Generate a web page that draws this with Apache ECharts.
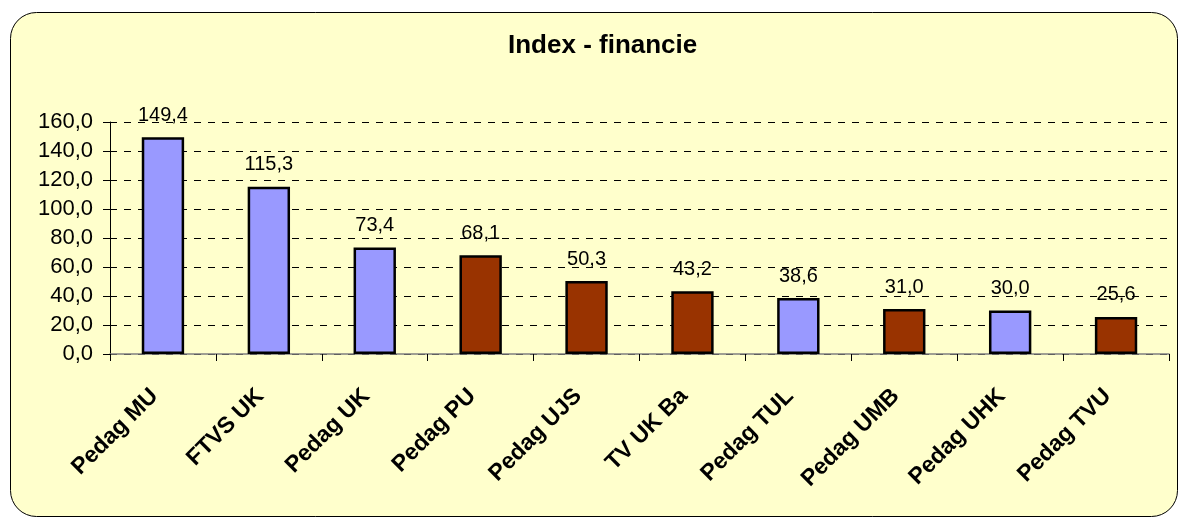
<!DOCTYPE html>
<html>
<head>
<meta charset="utf-8">
<script src="https://cdn.jsdelivr.net/npm/echarts@6/dist/echarts.min.js"></script>
<style>
html,body{margin:0;padding:0;background:#fff;}
#chart{width:1181px;height:518px;}
</style>
</head>
<body>
<div id="chart"></div>
<script>
const categories = ['Pedag MU','FTVS UK','Pedag UK','Pedag PU','Pedag UJS','TV UK Ba','Pedag TUL','Pedag UMB','Pedag UHK','Pedag TVU'];
const values = [149.4, 115.3, 73.4, 68.1, 50.3, 43.2, 38.6, 31.0, 30.0, 25.6];
const groups = ['a','a','a','b','b','b','a','b','a','b'];
const yTicks = { min: 0, max: 160, interval: 20 };
const titleText = 'Index - financie';

const groupColor = { a: '#9999FF', b: '#993300' };
const fmt = v => v.toFixed(1).replace('.', ',');

const chart = echarts.init(document.getElementById('chart'), null, { renderer: 'canvas' });
chart.setOption({
  backgroundColor: '#ffffff',
  animation: false,
  graphic: [{
    type: 'rect',
    z: -10,
    silent: true,
    shape: { x: 10.5, y: 12.5, width: 1167, height: 504, r: 26 },
    style: { fill: '#FFFFCC', stroke: '#000000', lineWidth: 1 }
  }],
  title: {
    text: titleText,
    left: 503,
    top: 28,
    textStyle: { fontFamily: 'Liberation Sans, Arial, sans-serif', fontWeight: 'bold', fontSize: 26, color: '#000' }
  },
  grid: { left: 110, right: 12, top: 122, bottom: 164, containLabel: false },
  xAxis: {
    type: 'category',
    data: categories,
    boundaryGap: true,
    axisLine: { lineStyle: { color: '#808080', width: 1.5 } },
    axisTick: { show: true, length: 7, lineStyle: { color: '#000', width: 1 } },
    axisLabel: {
      rotate: 45,
      interval: 0,
      margin: 30,
      padding: [0, 12, 0, 0],
      fontFamily: 'Liberation Sans, Arial, sans-serif',
      fontWeight: 'bold',
      fontSize: 23,
      color: '#000'
    }
  },
  yAxis: {
    type: 'value',
    min: yTicks.min,
    max: yTicks.max,
    interval: yTicks.interval,
    axisLine: { show: true, lineStyle: { color: '#000', width: 1 } },
    axisTick: { show: true, length: 7, lineStyle: { color: '#000' } },
    axisLabel: {
      formatter: v => fmt(v),
      margin: 17,
      fontFamily: 'Liberation Sans, Arial, sans-serif',
      fontSize: 22,
      color: '#000'
    },
    splitLine: { show: true, lineStyle: { color: '#000', type: [7, 7], width: 1 } }
  },
  series: [{
    type: 'bar',
    barWidth: '40%',
    data: values.map((v, i) => ({ value: v, itemStyle: { color: groupColor[groups[i]] } })),
    itemStyle: { borderColor: '#000', borderWidth: 2.5 },
    label: {
      show: true,
      position: 'top',
      distance: 12,
      formatter: p => fmt(p.value),
      fontFamily: 'Liberation Sans, Arial, sans-serif',
      fontSize: 20,
      color: '#000'
    }
  }]
});
</script>
</body>
</html>
